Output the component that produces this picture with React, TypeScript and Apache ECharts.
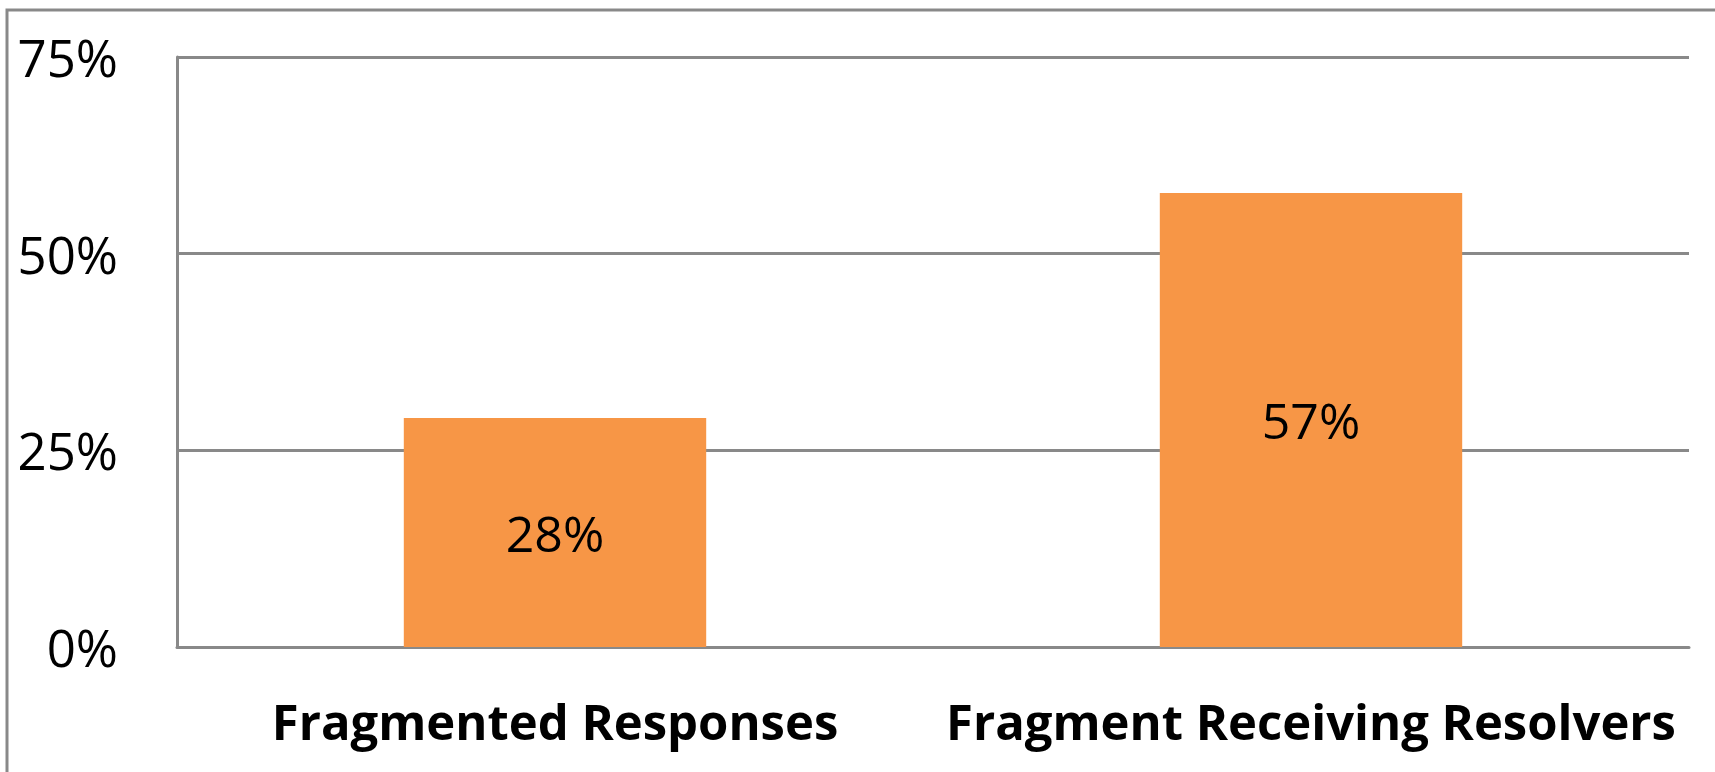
import React, { useEffect, useRef } from "react";
import * as echarts from "echarts";

const categories = ["Fragmented Responses", "Fragment Receiving Resolvers"];
const values = [29.1, 57.7];
const valueLabels = ["28%", "57%"];
const yTicks = { min: 0, max: 75, interval: 25 };

export default function App() {
  const ref = useRef<HTMLDivElement>(null);
  useEffect(() => {
    if (!ref.current) return;
    const chart = echarts.init(ref.current, undefined, { renderer: "svg" });
    const font = "'Open Sans', 'Noto Sans', sans-serif";
    chart.setOption({
      animation: false,
      backgroundColor: "#ffffff",
      textStyle: { fontFamily: font },
      graphic: [
        {
          type: "rect",
          shape: { x: 7, y: 10, width: 1800, height: 900 },
          style: { fill: "none", stroke: "#898989", lineWidth: 3 },
          silent: true,
          z: 0,
        },
      ],
      grid: { left: 177, right: 26, top: 57, bottom: 125, containLabel: false },
      xAxis: {
        type: "category",
        data: categories,
        axisLine: { show: true, lineStyle: { color: "#898989", width: 3 } },
        axisTick: { show: false },
        axisLabel: {
          color: "#000",
          fontWeight: "bold",
          fontSize: 49,
          fontFamily: font,
          margin: 49,
          interval: 0,
        },
      },
      yAxis: {
        type: "value",
        min: yTicks.min,
        max: yTicks.max,
        interval: yTicks.interval,
        axisLine: { show: true, lineStyle: { color: "#898989", width: 3 } },
        axisTick: { show: false },
        splitLine: { show: true, lineStyle: { color: "#898989", width: 3 } },
        axisLabel: {
          color: "#000",
          fontSize: 51,
          fontFamily: font,
          margin: 59,
          formatter: "{value}%",
        },
      },
      series: [
        {
          type: "bar",
          data: values,
          barWidth: "40%",
          itemStyle: { color: "#F79646" },
          label: {
            show: true,
            position: "inside",
            color: "#000",
            fontSize: 50,
            fontFamily: font,
            formatter: (p: any) => valueLabels[p.dataIndex],
          },
        },
      ],
    });
    return () => chart.dispose();
  }, []);
  return (
    <div
      ref={ref}
      style={{ position: "fixed", left: 0, top: 0, width: 1715, height: 772 }}
    />
  );
}
